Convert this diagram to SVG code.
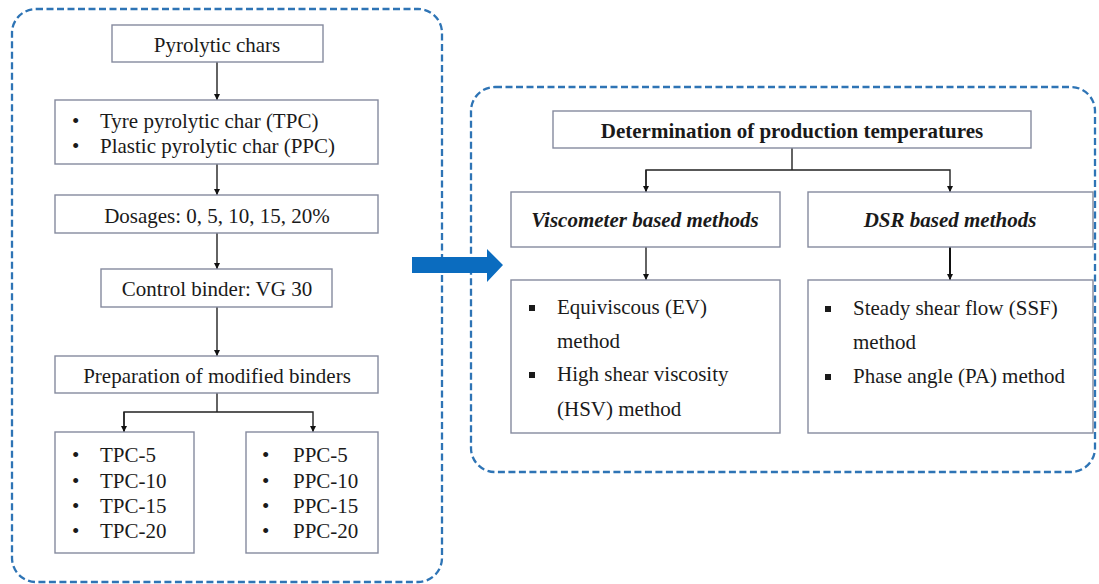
<svg xmlns="http://www.w3.org/2000/svg" width="1099" height="584" viewBox="0 0 1099 584">
<style>
.frame{fill:none;stroke:#2E74B5;stroke-width:2.3;stroke-dasharray:7 3.5}
.box{fill:#fff;stroke:#858a9e;stroke-width:1.4}
.t{font-family:"Liberation Serif","Times New Roman",serif;font-size:21px;fill:#1a1a1a}
.c{text-anchor:middle}
.b{font-weight:bold}
.bi{font-weight:bold;font-style:italic}
.ln{fill:none;stroke:#222;stroke-width:1.4}
.lnb{fill:none;stroke:#111;stroke-width:2}
.sq{fill:#1a1a1a}
</style>
<defs>
<marker id="ah" viewBox="0 0 8 8" refX="8" refY="4" markerWidth="6" markerHeight="6" markerUnits="userSpaceOnUse" orient="auto">
<path d="M0,0 L8,4 L0,8 Z" fill="#111"/>
</marker>
</defs>
<rect width="1099" height="584" fill="#fff"/>
<g id="frames">
<rect class="frame" x="12" y="9" width="430" height="573" rx="24"/>
<rect class="frame" x="471" y="87" width="624" height="385" rx="24"/>
</g>
<g id="connectors">
<line class="ln" x1="217" y1="62" x2="217" y2="100" marker-end="url(#ah)"/>
<line class="ln" x1="217" y1="164" x2="217" y2="195" marker-end="url(#ah)"/>
<line class="ln" x1="217" y1="233" x2="217" y2="269" marker-end="url(#ah)"/>
<line class="ln" x1="217" y1="307" x2="217" y2="356" marker-end="url(#ah)"/>
<polyline class="ln" points="217,393 217,412"/>
<polyline class="ln" points="124,432 124,412 313,412 313,432" marker-end="url(#ah)"/>
<line class="ln" x1="124" y1="412" x2="124" y2="432" marker-end="url(#ah)"/>
<polyline class="ln" points="792,148 792,170"/>
<polyline class="ln" points="646,192 646,170 950,170 950,192" marker-end="url(#ah)"/>
<line class="ln" x1="646" y1="170" x2="646" y2="192" marker-end="url(#ah)"/>
<line class="ln" x1="646" y1="247" x2="646" y2="280" marker-end="url(#ah)"/>
<line class="lnb" x1="950" y1="247" x2="950" y2="280" marker-end="url(#ah)"/>
<polygon points="412,257 487,257 487,249 503,265 487,282 487,273 412,273" fill="#0B6CBF"/>
</g>
<g id="n-pyrolytic">
<rect class="box" x="112" y="25" width="211" height="37"/>
<text class="t c" x="217" y="52">Pyrolytic chars</text>
</g>
<g id="n-types">
<rect class="box" x="55" y="100" width="323" height="64"/>
<text class="t" x="72" y="128">•</text>
<text class="t" x="100" y="128">Tyre pyrolytic char (TPC)</text>
<text class="t" x="72" y="153">•</text>
<text class="t" x="100" y="153">Plastic pyrolytic char (PPC)</text>
</g>
<g id="n-dosages">
<rect class="box" x="55" y="195" width="323" height="38"/>
<text class="t c" x="217" y="223">Dosages: 0, 5, 10, 15, 20%</text>
</g>
<g id="n-control">
<rect class="box" x="101" y="269" width="231" height="38"/>
<text class="t c" x="217" y="296">Control binder: VG 30</text>
</g>
<g id="n-prep">
<rect class="box" x="55" y="356" width="323" height="37"/>
<text class="t c" x="217" y="383">Preparation of modified binders</text>
</g>
<g id="n-tpc">
<rect class="box" x="55" y="432" width="139" height="121"/>
<text class="t" x="72" y="462">•</text><text class="t" x="100" y="462">TPC-5</text>
<text class="t" x="72" y="488">•</text><text class="t" x="100" y="488">TPC-10</text>
<text class="t" x="72" y="513">•</text><text class="t" x="100" y="513">TPC-15</text>
<text class="t" x="72" y="538">•</text><text class="t" x="100" y="538">TPC-20</text>
</g>
<g id="n-ppc">
<rect class="box" x="246" y="432" width="132" height="121"/>
<text class="t" x="262" y="462">•</text><text class="t" x="293" y="462">PPC-5</text>
<text class="t" x="262" y="488">•</text><text class="t" x="293" y="488">PPC-10</text>
<text class="t" x="262" y="513">•</text><text class="t" x="293" y="513">PPC-15</text>
<text class="t" x="262" y="538">•</text><text class="t" x="293" y="538">PPC-20</text>
</g>
<g id="n-determination">
<rect class="box" x="553" y="111" width="478" height="37"/>
<text class="t c b" x="792" y="138">Determination of production temperatures</text>
</g>
<g id="n-viscometer">
<rect class="box" x="511" y="192" width="269" height="55"/>
<text class="t c bi" x="645" y="227">Viscometer based methods</text>
</g>
<g id="n-dsr">
<rect class="box" x="808" y="192" width="285" height="55"/>
<text class="t c bi" x="950" y="227">DSR based methods</text>
</g>
<g id="n-visc-methods">
<rect class="box" x="511" y="280" width="269" height="153"/>
<rect class="sq" x="529" y="305" width="6" height="6"/>
<text class="t" x="557" y="314">Equiviscous (EV)</text>
<text class="t" x="557" y="348">method</text>
<rect class="sq" x="529" y="372" width="6" height="6"/>
<text class="t" x="557" y="381">High shear viscosity</text>
<text class="t" x="557" y="416">(HSV) method</text>
</g>
<g id="n-dsr-methods">
<rect class="box" x="808" y="280" width="285" height="153"/>
<rect class="sq" x="825" y="306" width="6" height="6"/>
<text class="t" x="853" y="315">Steady shear flow (SSF)</text>
<text class="t" x="853" y="349">method</text>
<rect class="sq" x="825" y="374" width="6" height="6"/>
<text class="t" x="853" y="383">Phase angle (PA) method</text>
</g>
</svg>
